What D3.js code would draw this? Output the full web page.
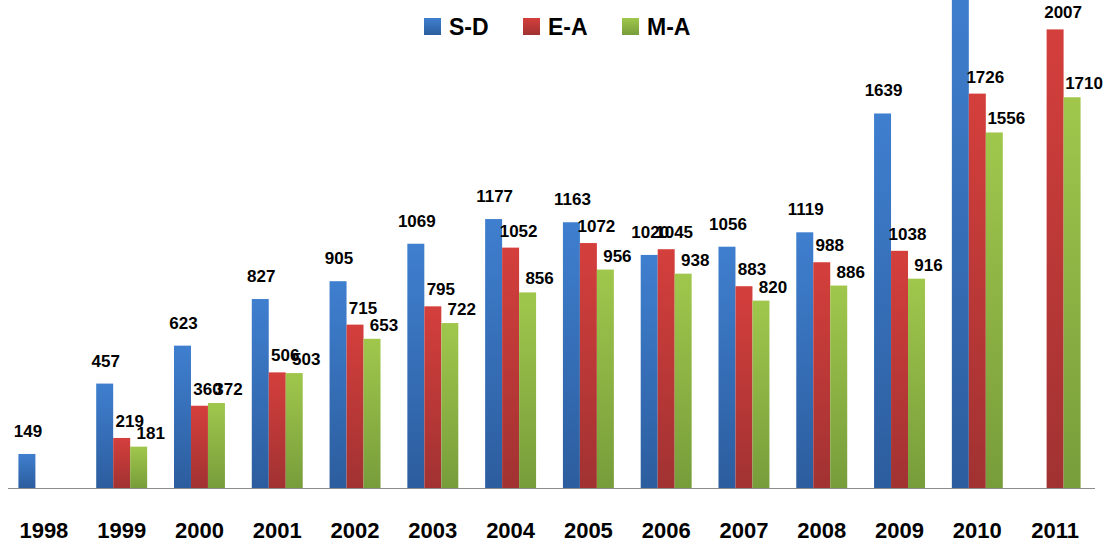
<!DOCTYPE html>
<html>
<head>
<meta charset="utf-8">
<script src="https://cdn.jsdelivr.net/npm/d3@7"></script>
<style>
  body { margin: 0; background: #fff; }
  svg { display: block; }
  text { font-family: "Liberation Sans", Arial, sans-serif; font-weight: bold; }
</style>
</head>
<body>
<svg width="1109" height="542"></svg>
<script>
var years = ["1998", "1999", "2000", "2001", "2002", "2003", "2004",
             "2005", "2006", "2007", "2008", "2009", "2010", "2011"];
var seriesNames = ["S-D", "E-A", "M-A"];

// 2010 S-D runs off the top of the picture, its label is not visible
var sd = [149, 457, 623, 827, 905, 1069, 1177, 1163, 1020, 1056, 1119, 1639, 2240, null];
var ea = [null, 219, 360, 506, 715, 795, 1052, 1072, 1045, 883, 988, 1038, 1726, 2007];
var ma = [null, 181, 372, 503, 653, 722, 856, 956, 938, 820, 886, 916, 1556, 1710];

var colors = {
  "S-D": ["#3f7fcf", "#2c5d9e"],
  "E-A": ["#d43f3c", "#a13232"],
  "M-A": ["#a0c74c", "#779d3b"]
};
var labelShift = {"S-D": 1, "E-A": 8, "M-A": 12};
var labelLift = {"S-D": 17, "E-A": 11, "M-A": 8};

var values = [sd, ea, ma];
var data = years.map(function(y, i) {
  return {
    year: y,
    bars: seriesNames.map(function(k, j) { return {key: k, value: values[j][i]}; })
  };
});

var svg = d3.select("svg"),
    width = +svg.attr("width"),
    height = +svg.attr("height"),
    baseline = 488;

var x0 = d3.scaleBand()
    .domain(years)
    .range([5, 1094]);

var x1 = d3.scaleBand()
    .domain(seriesNames)
    .range([0, x0.bandwidth()])
    .paddingInner(0)
    .paddingOuter(0.79);

var y = d3.scaleLinear()
    .domain([0, 2000])
    .range([baseline, 31]);

var defs = svg.append("defs");
seriesNames.forEach(function(k, i) {
  var g = defs.append("linearGradient")
      .attr("id", "grad" + i)
      .attr("x1", 0).attr("y1", 0).attr("x2", 0).attr("y2", 1);
  g.append("stop").attr("offset", "0%").attr("stop-color", colors[k][0]);
  g.append("stop").attr("offset", "100%").attr("stop-color", colors[k][1]);
});

// baseline
svg.append("line")
    .attr("x1", 8)
    .attr("x2", 1095)
    .attr("y1", baseline + 0.5)
    .attr("y2", baseline + 0.5)
    .attr("stroke", "#8c8c8c")
    .attr("stroke-width", 1.2);

var groups = svg.append("g")
  .selectAll("g")
  .data(data)
  .enter().append("g")
    .attr("transform", function(d) { return "translate(" + x0(d.year) + ",0)"; });

groups.selectAll("rect")
  .data(function(d) { return d.bars.filter(function(b) { return b.value != null; }); })
  .enter().append("rect")
    .attr("x", function(d) { return x1(d.key); })
    .attr("width", x1.bandwidth())
    .attr("y", function(d) { return y(d.value); })
    .attr("height", function(d) { return baseline - y(d.value); })
    .attr("fill", function(d) { return "url(#grad" + seriesNames.indexOf(d.key) + ")"; });

// labels that would sit above the frame are left out, as in the picture
groups.selectAll("text")
  .data(function(d) {
    return d.bars.filter(function(b) { return b.value != null && y(b.value) - labelLift[b.key] > 0; });
  })
  .enter().append("text")
    .attr("x", function(d) { return x1(d.key) + x1.bandwidth() / 2 + labelShift[d.key]; })
    .attr("y", function(d) { return y(d.value) - labelLift[d.key]; })
    .attr("text-anchor", "middle")
    .attr("font-size", 17)
    .attr("fill", "#000")
    .text(function(d) { return d.value; });

// year labels
svg.append("g")
  .selectAll("text")
  .data(years)
  .enter().append("text")
    .attr("x", function(d) { return x0(d) + x0.bandwidth() / 2; })
    .attr("y", 538)
    .attr("text-anchor", "middle")
    .attr("font-size", 22)
    .attr("fill", "#000")
    .text(function(d) { return d; });

// legend
var legendX = [424, 523, 622];
var legend = svg.append("g")
  .selectAll("g")
  .data(seriesNames)
  .enter().append("g")
    .attr("transform", function(d, i) { return "translate(" + legendX[i] + ",18)"; });

legend.append("rect")
    .attr("width", 17)
    .attr("height", 17)
    .attr("fill", function(d, i) { return "url(#grad" + i + ")"; });

legend.append("text")
    .attr("x", 25)
    .attr("y", 17)
    .attr("font-size", 23)
    .attr("fill", "#000")
    .text(function(d) { return d; });
</script>
</body>
</html>
